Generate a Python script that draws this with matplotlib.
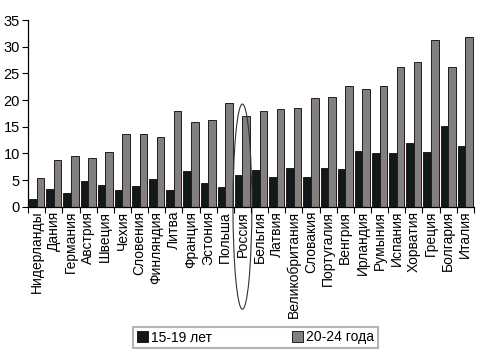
import matplotlib
matplotlib.use("Agg")
import matplotlib.pyplot as plt
import numpy as np
from matplotlib.patches import Ellipse
from matplotlib.transforms import blended_transform_factory

countries = ["Нидерланды", "Дания", "Германия", "Австрия", "Швеция", "Чехия",
             "Словения", "Финляндия", "Литва", "Франция", "Эстония", "Польша",
             "Россия", "Бельгия", "Латвия", "Великобритания", "Словакия",
             "Португалия", "Венгрия", "Ирландия", "Румыния", "Испания",
             "Хорватия", "Греция", "Болгария", "Италия"]
age_15_19 = [1.4, 3.3, 2.6, 4.75, 4.0, 3.1, 3.8, 5.2, 3.1, 6.6, 4.4, 3.6,
             5.9, 6.9, 5.6, 7.3, 5.6, 7.3, 7.1, 10.45, 10.1, 10.1, 11.95,
             10.25, 15.1, 11.4]
age_20_24 = [5.3, 8.7, 9.45, 9.1, 10.2, 13.6, 13.6, 13.0, 17.9, 15.8, 16.2,
             19.4, 16.95, 17.9, 18.3, 18.45, 20.3, 20.5, 22.6, 22.0, 22.6,
             26.15, 27.1, 31.2, 26.15, 31.9]
series_labels = ["15-19 лет", "20-24 года"]
yticks = [0, 5, 10, 15, 20, 25, 30, 35]
highlight = "Россия"

plt.rcParams['font.family'] = ['Liberation Sans', 'DejaVu Sans']

fig = plt.figure(figsize=(4.85, 3.6), dpi=100)
ax = fig.add_axes([0.058, 0.426, 0.919, 0.518])

n = len(countries)
x = np.arange(n)
w = 0.44
b1 = ax.bar(x - w / 2, age_15_19, width=w, color="#111a1a", edgecolor="#2a1a14",
            linewidth=0.7, label=series_labels[0])
b2 = ax.bar(x + w / 2, age_20_24, width=w, color="#808080", edgecolor="#2a1a14",
            linewidth=0.7, label=series_labels[1])

ax.set_xlim(-0.5, n - 0.5)
ax.set_ylim(0, 35)
ax.set_yticks(yticks)
ax.tick_params(axis='y', labelsize=10.5, length=4, width=0.8, pad=2)
ax.set_xticks(x)
ax.set_xticklabels(countries, rotation=90, fontsize=10, va='top', ha='center')
ax.tick_params(axis='x', which='major', length=0, pad=3)
ax.set_xticks(np.arange(-0.5, n, 1.0), minor=True)
ax.tick_params(axis='x', which='minor', length=4, width=0.8, direction='out')
for s in ["top", "right"]:
    ax.spines[s].set_visible(False)
for s in ["left", "bottom"]:
    ax.spines[s].set_linewidth(0.9)

# ellipse around Russia
idx = countries.index(highlight)
tr = blended_transform_factory(ax.transData, ax.transAxes)
ell = Ellipse((idx, 0.0), width=1.1, height=1.1, transform=tr, fill=False,
              edgecolor="#333333", linewidth=0.8, clip_on=False)
ax.add_patch(ell)

leg = fig.legend(handles=[b1, b2], labels=series_labels, loc='center',
                 bbox_to_anchor=(0.527, 0.0625), ncol=2, fontsize=10,
                 frameon=True, fancybox=False, edgecolor="#a0a0a0",
                 handlelength=0.8, handleheight=0.8, handletextpad=0.2,
                 columnspacing=5.8, borderpad=0.25)
leg.get_frame().set_linewidth(1.5)

fig.savefig("out.png", dpi=100)
